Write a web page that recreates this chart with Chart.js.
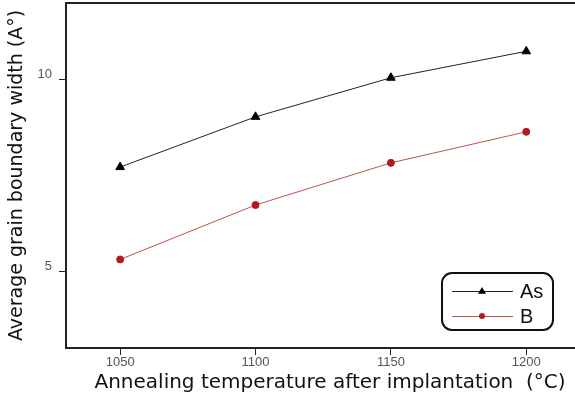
<!DOCTYPE html>
<html>
<head>
<meta charset="utf-8">
<script src="https://cdn.jsdelivr.net/npm/chart.js@4.4.1/dist/chart.umd.min.js"></script>
<style>
  body { margin: 0; background: #fff; }
  #wrap { width: 575px; height: 397px; }
</style>
</head>
<body>
<div id="wrap"><canvas id="grainChart" width="575" height="397"></canvas></div>
<script>
// values
const temps = [1050, 1100, 1150, 1200];
const asWidth = [7.72, 9.03, 10.05, 10.74];
const bWidth = [5.31, 6.73, 7.83, 8.64];
const xTicks = [1050, 1100, 1150, 1200];
const yTicks = [5, 10];
const seriesNames = ['As', 'B'];

const FONT = '"Liberation Sans", Arial, sans-serif';
const TITLE_FONT = '"DejaVu Sans", "Liberation Sans", sans-serif';

// top frame line + the boxed legend in the lower right
const frameAndLegend = {
    id: 'frameAndLegend',
    afterDraw(chart) {
        const ctx = chart.ctx;
        const area = chart.chartArea;
        ctx.save();
        ctx.strokeStyle = '#222';
        ctx.lineWidth = 2;
        ctx.beginPath();
        ctx.moveTo(area.left - 1, area.top);
        ctx.lineTo(area.right, area.top);
        ctx.stroke();

        // legend box
        const bx = 442, by = 273, bw = 111, bh = 57, r = 10;
        ctx.lineWidth = 2;
        ctx.strokeStyle = '#111';
        ctx.beginPath();
        ctx.roundRect(bx, by, bw, bh, r);
        ctx.stroke();

        const rows = [291, 316];
        chart.data.datasets.forEach((ds, i) => {
            const y = rows[i];
            ctx.strokeStyle = ds.borderColor;
            ctx.lineWidth = 1;
            ctx.beginPath();
            ctx.moveTo(452, y + 0.5);
            ctx.lineTo(513, y + 0.5);
            ctx.stroke();
            ctx.fillStyle = ds.pointBackgroundColor;
            ctx.beginPath();
            if (ds.pointStyle === 'triangle') {
                const s = 4;
                ctx.moveTo(482, y - s);
                ctx.lineTo(482 + s, y + s * 0.7);
                ctx.lineTo(482 - s, y + s * 0.7);
                ctx.closePath();
            } else {
                ctx.arc(482, y, 3, 0, Math.PI * 2);
            }
            ctx.fill();
            ctx.fillStyle = '#111';
            ctx.font = '20px ' + FONT;
            ctx.textBaseline = 'middle';
            ctx.fillText(ds.label, 520, y + 1);
        });
        ctx.restore();
    }
};

new Chart(document.getElementById('grainChart'), {
    type: 'line',
    data: {
        datasets: [{
            label: seriesNames[0],
            data: temps.map((t, i) => ({ x: t, y: asWidth[i] })),
            borderColor: '#222',
            borderWidth: 1,
            pointStyle: 'triangle',
            pointRadius: 5,
            pointBackgroundColor: '#000',
            pointBorderColor: '#000',
            pointBorderWidth: 1
        }, {
            label: seriesNames[1],
            data: temps.map((t, i) => ({ x: t, y: bWidth[i] })),
            borderColor: '#c0504d',
            borderWidth: 1,
            pointStyle: 'circle',
            pointRadius: 3.5,
            pointBackgroundColor: '#b3181c',
            pointBorderColor: '#b3181c',
            pointBorderWidth: 1
        }]
    },
    options: {
        responsive: false,
        animation: false,
        layout: { autoPadding: false, padding: { top: 3, right: 0, left: 0, bottom: 0 } },
        plugins: {
            legend: { display: false },
            tooltip: { enabled: false }
        },
        scales: {
            x: {
                type: 'linear',
                min: 1030,
                max: 1218,
                afterBuildTicks: scale => { scale.ticks = xTicks.map(v => ({ value: v })); },
                afterFit: scale => {
                    scale.height = 49;
                    scale.paddingLeft = 0;
                    scale.paddingRight = 0;
                },
                grid: { drawOnChartArea: false, tickLength: 7, color: '#222', lineWidth: 1 },
                border: { color: '#222', width: 2 },
                ticks: {
                    color: '#555',
                    font: { family: FONT, size: 13 },
                    padding: 0,
                    maxRotation: 0,
                    callback: v => String(v)
                },
                title: {
                    display: true,
                    text: '   Annealing temperature after implantation  (°C)',
                    color: '#111',
                    font: { family: TITLE_FONT, size: 20 },
                    padding: { top: 0, bottom: 2 }
                }
            },
            y: {
                min: 3,
                max: 12,
                afterBuildTicks: scale => { scale.ticks = yTicks.map(v => ({ value: v })); },
                afterFit: scale => {
                    scale.width = 66;
                    scale.paddingTop = 0;
                    scale.paddingBottom = 0;
                },
                grid: { drawOnChartArea: false, tickLength: 7, color: '#222', lineWidth: 1 },
                border: { color: '#222', width: 2 },
                ticks: { color: '#555', font: { family: FONT, size: 13 }, padding: 7, labelOffset: -5 },
                title: {
                    display: true,
                    text: 'Average grain boundary width (A°)',
                    color: '#111',
                    font: { family: TITLE_FONT, size: 19 },
                    padding: { top: 6, bottom: 0 }
                }
            }
        }
    },
    plugins: [frameAndLegend]
});
</script>
</body>
</html>
